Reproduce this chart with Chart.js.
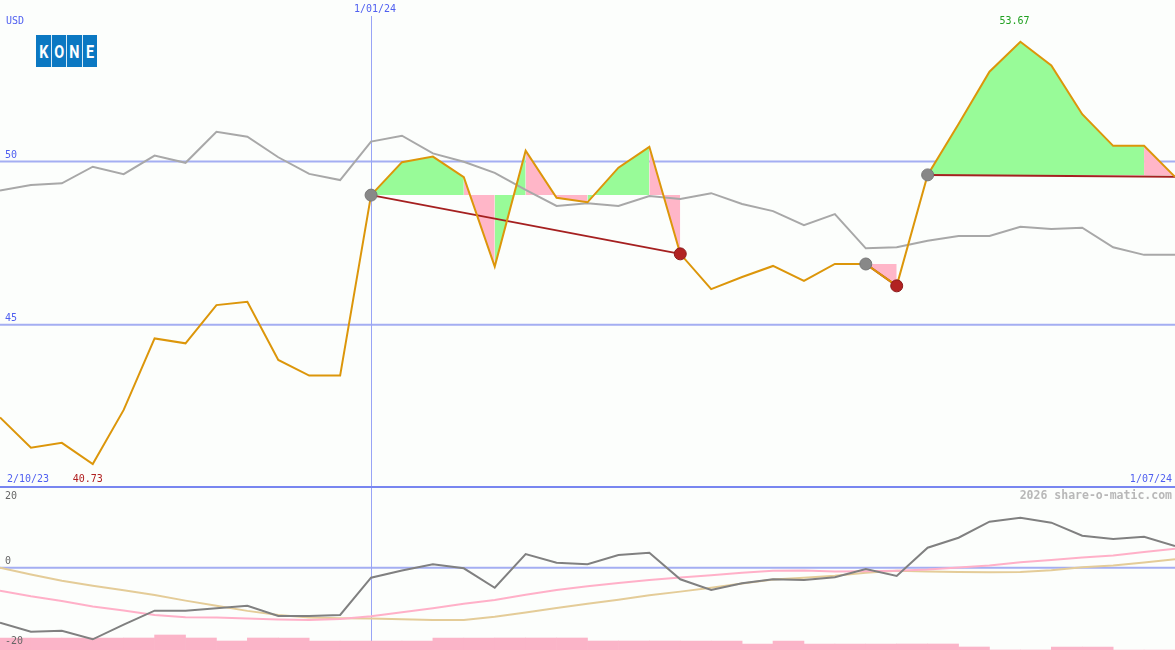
<!DOCTYPE html>
<html>
<head>
<meta charset="utf-8">
<title>KONE</title>
<script src="https://cdn.jsdelivr.net/npm/chart.js@4.4.1/dist/chart.umd.min.js"></script>
<style>
  html, body { margin: 0; padding: 0; background: #fcfefc; overflow: hidden; }
  #wrap { position: relative; width: 1175px; height: 650px; }
  #top { position: absolute; left: 0; top: 0; }
  #sep { position: absolute; left: 0; top: 486px; width: 1175px; height: 2px; background: #7886f0; }
  #bottom { position: absolute; left: 0; top: 488px; }
  #logo { position: absolute; left: 36px; top: 35px; height: 32px; display: flex; gap: 1px; background: #d8ecf8; }
  #logo span { width: 14.5px; height: 32px; background: #0b78c2; color: #fff;
    font: bold 18px Roboto, sans-serif; display: flex; align-items: center; justify-content: center; }
  #logo span i { font-style: normal; display: inline-block; transform: scaleX(0.8); }
</style>
</head>
<body>
<div id="wrap">
  <canvas id="top" width="1175" height="486"></canvas>
  <div id="sep"></div>
  <canvas id="bottom" width="1175" height="162"></canvas>
  <div id="logo"><span><i>K</i></span><span><i>O</i></span><span><i>N</i></span><span><i>E</i></span></div>
</div>
<script>
// weekly closes, KONE and the comparison line
const price = [42.16, 41.23, 41.38, 40.73, 42.39, 44.58, 44.43, 45.60, 45.70, 43.92, 43.44, 43.44,
  48.97, 49.98, 50.15, 49.52, 46.78, 50.33, 48.89, 48.75, 49.81, 50.45, 47.17, 46.09, 46.46,
  46.80, 46.34, 46.86, 46.86, 46.19, 49.59, 51.15, 52.75, 53.67, 52.94, 51.45, 50.48, 50.48, 49.53]
const peer = [49.11, 49.28, 49.33, 49.84, 49.61, 50.18, 49.96, 50.91, 50.76, 50.13, 49.62, 49.43,
  50.61, 50.79, 50.25, 49.99, 49.65, 49.13, 48.64, 48.72, 48.64, 48.94, 48.85, 49.03, 48.70,
  48.48, 48.05, 48.39, 47.34, 47.37, 47.57, 47.72, 47.72, 48.00, 47.93, 47.97, 47.37, 47.14, 47.14]

// lower panel
const momentum = [-13.82, -16.08, -15.83, -17.99, -14.3, -10.80, -10.80, -10.20, -9.55, -12.14, -12.14, -11.88,
  -2.51, -0.70, 0.85, -0.15, -5.03, 3.44, 1.26, 0.85, 3.19, 3.77, -2.91, -5.60, -3.92,
  -2.91, -3.09, -2.41, -0.33, -2.09, 5.03, 7.54, 11.56, 12.56, 11.31, 8.04, 7.21, 7.79, 5.45]
const avgFast = [-5.78, -7.19, -8.37, -9.75, -10.78, -11.88, -12.46, -12.51, -12.74, -13.02, -13.14, -12.89,
  -12.21, -11.18, -10.20, -9.07, -8.12, -6.81, -5.60, -4.67, -3.84, -3.09, -2.46, -1.91, -1.28,
  -0.78, -0.73, -0.95, -0.90, -0.75, -0.48, 0.03, 0.55, 1.36, 1.93, 2.56, 3.07, 3.94, 4.77]
const avgSlow = [0.0, -1.71, -3.29, -4.52, -5.68, -6.88, -8.27, -9.57, -10.85, -11.86, -12.49, -12.69,
  -12.76, -12.96, -13.14, -13.14, -12.31, -11.26, -10.13, -9.07, -8.07, -6.93, -6.01, -5.03, -3.97,
  -2.94, -2.54, -2.04, -1.26, -0.78, -0.93, -1.06, -1.16, -1.08, -0.63, 0.13, 0.58, 1.28, 2.11]
const volume = [4, 4, 4, 4, 4, 5, 4, 3, 4, 4, 3, 3, 3, 3, 4, 4, 4, 4, 4, 3, 3, 3, 3, 3, 2,
  3, 2, 2, 2, 2, 2, 1, 0, 0, 1, 1, 0, 0]

// signals
const zoneStart = [12, 28, 30]
const zoneEnd = [22, 29, 38]
const buyMarks = [12, 28, 30]
const sellMarks = [22, 29]

// ticks
const priceTicks = [50, 45]
const oscTicks = [20, 0, -20]
const dateIdx = [0, 12, 38]
const dateLabels = ['2/10/23', '1/01/24', '1/07/24']

const blueText = '#5060f0'
const gridBlue = '#a4aef2'
const vLine = '#98a4f6'
const green = '#98fb98'
const pink = '#ffb6c8'
const mono = '"DejaVu Sans Mono", monospace'

const pts = (arr, off = 0) => arr.map((v, i) => ({x: i + off, y: v}))

// fill areas between price and the level where the signal started
const zoneSets = zoneStart.map((s, k) => {
  const level = price[s]
  return {
    data: pts(price).slice(s, zoneEnd[k] + 1),
    borderWidth: 0,
    pointRadius: 0,
    backgroundColor: green,
    fill: {value: level},
    segment: {
      backgroundColor: ctx => ctx.p1.parsed.y < level ? pink : green
    },
    order: 10
  }
})

const trendSets = zoneStart.map((s, k) => ({
  data: [{x: s, y: price[s]}, {x: zoneEnd[k], y: price[zoneEnd[k]]}],
  borderColor: '#a52020',
  borderWidth: 2,
  pointRadius: 0,
  fill: false,
  order: 4
}))

const guidesTop = {
  id: 'guidesTop',
  beforeDatasetsDraw(chart) {
    const {ctx, chartArea: a, scales: {x, y}} = chart
    ctx.save()
    ctx.strokeStyle = gridBlue
    ctx.lineWidth = 2
    priceTicks.forEach(v => {
      const py = y.getPixelForValue(v)
      ctx.beginPath(); ctx.moveTo(a.left, py); ctx.lineTo(a.right, py); ctx.stroke()
    })
    ctx.strokeStyle = vLine
    ctx.lineWidth = 1
    const px = Math.round(x.getPixelForValue(dateIdx[1])) + 0.5
    ctx.beginPath(); ctx.moveTo(px, 16); ctx.lineTo(px, a.bottom); ctx.stroke()
    ctx.restore()
  },
  afterDraw(chart) {
    const {ctx, scales: {x, y}} = chart
    ctx.save()
    ctx.font = '10px ' + mono
    ctx.textBaseline = 'middle'
    ctx.fillStyle = blueText
    ctx.textAlign = 'left'
    ctx.fillText('USD', 6, 21)
    priceTicks.forEach(v => ctx.fillText(String(v), 5, y.getPixelForValue(v) - 6))
    ctx.fillText(dateLabels[0], x.getPixelForValue(dateIdx[0]) + 7, 479)
    ctx.textAlign = 'right'
    ctx.fillText(dateLabels[2], x.getPixelForValue(dateIdx[2]) - 3, 479)
    ctx.textAlign = 'center'
    ctx.fillText(dateLabels[1], x.getPixelForValue(dateIdx[1]) + 4, 9.5)

    // lowest and highest close
    const lo = Math.min(...price), hi = Math.max(...price)
    ctx.textAlign = 'left'
    ctx.fillStyle = '#b02020'
    ctx.fillText(lo.toFixed(2), x.getPixelForValue(price.indexOf(lo)) - 20, 479)
    ctx.fillStyle = '#20a020'
    ctx.fillText(hi.toFixed(2), x.getPixelForValue(price.indexOf(hi)) - 21, 21)
    ctx.restore()
  }
}

new Chart(document.getElementById('top'), {
  type: 'line',
  data: {
    datasets: [
      ...zoneSets,
      {data: pts(peer), borderColor: '#a8a8a8', borderWidth: 2, pointRadius: 0, fill: false, order: 6},
      ...trendSets,
      {data: pts(price), borderColor: '#dc960a', borderWidth: 2, pointRadius: 0, fill: false, order: 3},
      {data: buyMarks.map(i => ({x: i, y: price[i]})), showLine: false, pointRadius: 6,
        pointBackgroundColor: '#888888', pointBorderColor: '#777777', pointBorderWidth: 1, order: 1},
      {data: sellMarks.map(i => ({x: i, y: price[i]})), showLine: false, pointRadius: 6,
        pointBackgroundColor: '#b22222', pointBorderColor: '#8b1a1a', pointBorderWidth: 1, order: 1}
    ]
  },
  options: {
    responsive: false,
    animation: false,
    events: [],
    layout: {padding: 0, autoPadding: false},
    plugins: {legend: {display: false}, tooltip: {enabled: false}},
    scales: {
      x: {type: 'linear', min: 0, max: price.length - 1, display: false, offset: false},
      y: {type: 'linear', min: 40.058, max: 54.948, display: false}
    }
  },
  plugins: [guidesTop]
})

const guidesBottom = {
  id: 'guidesBottom',
  beforeDatasetsDraw(chart) {
    const {ctx, chartArea: a, scales: {x, y}} = chart
    ctx.save()
    ctx.strokeStyle = gridBlue
    ctx.lineWidth = 2
    const py = y.getPixelForValue(0)
    ctx.beginPath(); ctx.moveTo(a.left, py); ctx.lineTo(a.right, py); ctx.stroke()
    ctx.strokeStyle = vLine
    ctx.lineWidth = 1
    const px = Math.round(x.getPixelForValue(dateIdx[1])) + 0.5
    ctx.beginPath(); ctx.moveTo(px, a.top); ctx.lineTo(px, a.bottom); ctx.stroke()
    ctx.restore()
  },
  afterDraw(chart) {
    const {ctx, scales: {y}} = chart
    ctx.save()
    ctx.textBaseline = 'middle'
    ctx.font = '10px ' + mono
    ctx.fillStyle = '#666666'
    ctx.textAlign = 'left'
    oscTicks.forEach(v => ctx.fillText(String(v), 5, Math.max(y.getPixelForValue(v) - 6, 8)))
    ctx.font = 'bold 11.5px ' + mono
    ctx.fillStyle = '#b8b8b8'
    ctx.textAlign = 'right'
    ctx.fillText('2026 share-o-matic.com', 1172, 8)
    ctx.restore()
  }
}

new Chart(document.getElementById('bottom'), {
  type: 'line',
  data: {
    datasets: [
      {type: 'bar', data: pts(volume, 0.5), yAxisID: 'yv', backgroundColor: '#fbb4c8',
        borderWidth: 0, barPercentage: 1, categoryPercentage: 1, order: 10},
      {data: pts(avgSlow), borderColor: '#e4cc98', borderWidth: 2, pointRadius: 0, fill: false, order: 4},
      {data: pts(avgFast), borderColor: '#ffb0c8', borderWidth: 2, pointRadius: 0, fill: false, order: 3},
      {data: pts(momentum), borderColor: '#808080', borderWidth: 2, pointRadius: 0, fill: false, order: 1}
    ]
  },
  options: {
    responsive: false,
    animation: false,
    events: [],
    layout: {padding: 0, autoPadding: false},
    plugins: {legend: {display: false}, tooltip: {enabled: false}},
    scales: {
      x: {type: 'linear', min: 0, max: price.length - 1, display: false, offset: false},
      y: {type: 'linear', min: -20.68, max: 20.03, display: false},
      yv: {type: 'linear', min: 0, max: 54, display: false}
    }
  },
  plugins: [guidesBottom]
})
</script>
</body>
</html>
